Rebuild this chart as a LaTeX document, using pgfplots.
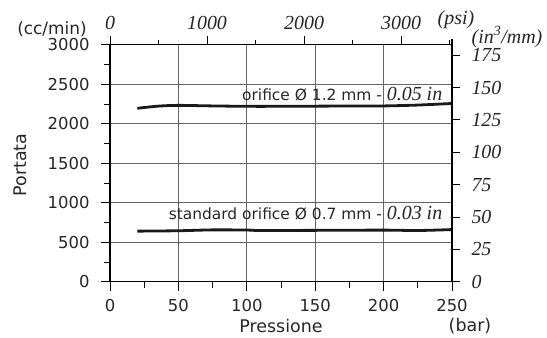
\documentclass[border=0pt]{standalone}
\usepackage{pgfplots}
\pgfplotsset{compat=1.18}
\usepackage{fontspec}
\setmainfont{DejaVu Sans}
\newfontfamily\tms{Liberation Serif}
\definecolor{txt}{gray}{0.15}
\begin{document}
\begin{tikzpicture}[x=1bp,y=1bp]
\useasboundingbox (-110,-55.3) rectangle (437,281.7);
% main axis
\begin{axis}[
  at={(0,0)}, anchor=south west,
  width=342bp, height=237bp, scale only axis,
  xmin=0, xmax=250, ymin=0, ymax=3000,
  xtick={0,50,...,250}, ytick={0,500,...,3000},
  minor x tick num=1, minor y tick num=1,
  tick pos=left, tick align=outside,
  major tick length=9bp, minor tick length=6bp,
  grid=major, major grid style={black!60, line width=0.9bp},
  axis line style={line width=1.2bp},
  every tick/.style={black, line width=0.9bp},
  /pgf/number format/assume math mode=true,
  /pgf/number format/1000 sep={},
  ticklabel style={font=\fontsize{16.5}{19}\selectfont, text=txt},
  xticklabel style={yshift=-5bp},
  yticklabel style={xshift=-8bp},
  clip=false,
]
\addplot[black!90, line width=2.8bp, smooth] coordinates {
 (20,2195) (35,2222) (50,2232) (75,2225) (100,2220) (125,2220) (150,2222) (175,2224) (200,2225) (225,2236) (250,2256)};
\addplot[black!90, line width=2.8bp, smooth] coordinates {
 (20,640) (50,645) (75,656) (100,654) (110,648) (150,650) (200,653) (225,648) (250,660)};
\node[anchor=base east, inner sep=0, text=txt, font=\fontsize{15.5}{18}\selectfont] at (axis cs:243,2291) {orifice Ø 1.2 mm - {\tms\itshape\fontsize{20}{22}\selectfont 0.05 in}};
\node[anchor=base east, inner sep=0, text=txt, font=\fontsize{15.5}{18}\selectfont] at (axis cs:243,790) {standard orifice Ø 0.7 mm - {\tms\itshape\fontsize{20}{22}\selectfont 0.03 in}};
\end{axis}
% top psi axis
\begin{axis}[
  at={(0,0)}, anchor=south west,
  width=342bp, height=237bp, scale only axis,
  xmin=0, xmax=3525, ymin=0, ymax=1,
  axis x line*=top, axis y line=none,
  xtick={0,1000,2000,3000}, minor xtick={500,1500,2500,3500},
  tick align=outside, major tick length=9bp, minor tick length=5bp,
  every tick/.style={black, line width=0.9bp},
  axis line style={line width=1.2bp, -},
  /pgf/number format/assume math mode=true,
  /pgf/number format/1000 sep={},
  xticklabel style={font=\tms\itshape\fontsize{20}{22}\selectfont, text=txt, yshift=2bp},
]
\addplot[draw=none] coordinates {(0,0)};
\end{axis}
% right in3 axis
\begin{axis}[
  at={(0,0)}, anchor=south west,
  width=342bp, height=237bp, scale only axis,
  xmin=0, xmax=1, ymin=0, ymax=183.07,
  axis y line*=right, axis x line=none,
  ytick={0,25,...,175},
  tick align=outside, major tick length=8bp,
  every tick/.style={black, line width=0.9bp},
  axis line style={line width=1.2bp, -},
  /pgf/number format/assume math mode=true,
  yticklabel style={font=\tms\itshape\fontsize{20}{22}\selectfont, text=txt, anchor=west, xshift=8bp},
]
\addplot[draw=none] coordinates {(0,0)};
\end{axis}
\draw[line width=1.2bp] (342,237) -- (342,243);
\node[inner sep=0, text=txt, font=\fontsize{17}{19}\selectfont] at (-58,252.7) {(cc/min)};
\node[inner sep=0, text=txt, font=\fontsize{17.5}{19}\selectfont, rotate=90] at (-90,116.7) {Portata};
\node[inner sep=0, text=txt, font=\fontsize{17.5}{19}\selectfont] at (171,-44) {Pressione};
\node[inner sep=0, text=txt, font=\fontsize{17.5}{19}\selectfont] at (360,-44) {(bar)};
\node[inner sep=0, text=txt, font=\tms\itshape\fontsize{20}{22}\selectfont] at (346,262) {(psi)};
\node[inner sep=0, text=txt, font=\tms\itshape\fontsize{20}{22}\selectfont] at (397,244.5) {(in\textsuperscript{3}/mm)};
\end{tikzpicture}
\end{document}
